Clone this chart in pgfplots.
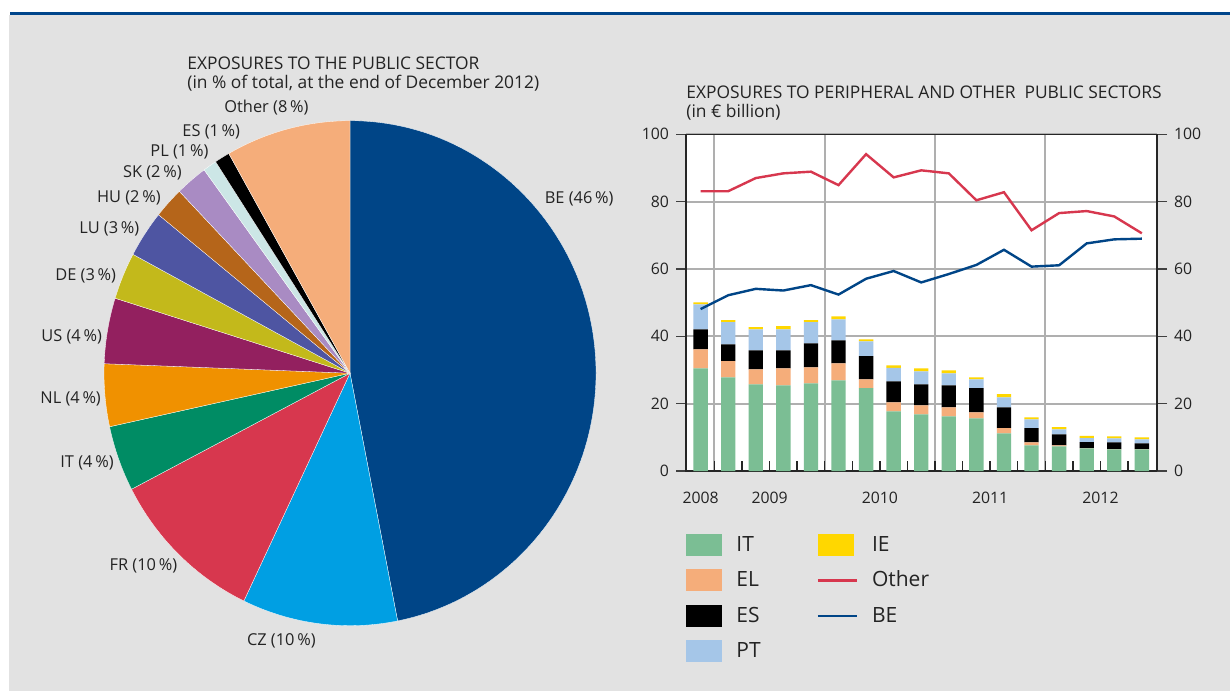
\documentclass[border=0pt]{standalone}
\usepackage{fontspec}
\setmainfont{Open Sans}
\usepackage{pgfplots}
\usepackage{pgfplotstable}
\pgfplotsset{compat=1.18}

\definecolor{bggray}{RGB}{226,226,226}
\definecolor{topblue}{RGB}{0,70,140}
\definecolor{txt}{RGB}{35,35,35}
\definecolor{gridgray}{RGB}{175,175,175}
% pie
\definecolor{pBE}{RGB}{0,69,135}
\definecolor{pCZ}{RGB}{0,159,227}
\definecolor{pFR}{RGB}{215,55,78}
\definecolor{pIT}{RGB}{0,140,100}
\definecolor{pNL}{RGB}{240,145,0}
\definecolor{pUS}{RGB}{147,32,95}
\definecolor{pDE}{RGB}{195,185,27}
\definecolor{pLU}{RGB}{78,85,162}
\definecolor{pHU}{RGB}{181,101,26}
\definecolor{pSK}{RGB}{169,139,195}
\definecolor{pPL}{RGB}{204,230,230}
\definecolor{pES}{RGB}{0,0,0}
\definecolor{pOther}{RGB}{245,173,122}
% bars and lines
\definecolor{bIT}{RGB}{123,190,148}
\definecolor{bEL}{RGB}{245,173,122}
\definecolor{bES}{RGB}{0,0,0}
\definecolor{bPT}{RGB}{165,198,232}
\definecolor{bIE}{RGB}{255,215,0}
\definecolor{lOther}{RGB}{215,55,78}
\definecolor{lBE}{RGB}{0,69,135}

% quarterly exposures, EUR billion
\pgfplotstableread{
x  IT   EL  ES  PT  IE  Other BE
0  30.5 5.6 6.0 7.4 0.6 83.1  48.1
1  27.8 4.8 5.0 6.6 0.6 83.1  52.2
2  25.7 4.5 5.6 6.3 0.6 87.0  54.1
3  25.4 5.1 5.3 6.3 0.9 88.4  53.6
4  26.0 4.8 7.1 6.3 0.6 88.9  55.2
5  26.9 5.1 6.8 6.2 0.9 84.9  52.4
6  24.6 2.6 6.9 4.4 0.6 94.1  57.1
7  17.7 2.7 6.2 4.0 0.8 87.2  59.4
8  16.8 2.7 6.2 3.9 0.9 89.3  56.0
9  16.2 2.7 6.5 3.6 0.9 88.4  58.5
10 15.6 1.8 7.2 2.6 0.6 80.4  61.2
11 11.2 1.5 6.2 3.0 0.9 82.8  65.7
12 7.6  0.9 4.2 2.6 0.6 71.5  60.7
13 7.3  0.3 3.3 1.5 0.6 76.6  61.1
14 6.7  0.1 1.8 1.2 0.6 77.2  67.6
15 6.4  0.1 2.0 1.2 0.6 75.6  68.8
16 6.4  0.1 1.7 1.2 0.6 70.6  69.0
}\expo

% pie slice from cumulative share #2 to #3 (in %), clockwise from the top
\newcommand{\slice}[3]{%
  \fill[#1, draw=white, line width=0.15pt] (axis cs:0,0) --
    (axis cs:{cos(90-3.6*#2)},{sin(90-3.6*#2)})
    arc[start angle={90-3.6*#2}, end angle={90-3.6*#3}, x radius=123pt, y radius=126.25pt] -- cycle;}

\pgfplotsset{
  barleg/.style={legend image code/.code={\fill[##1] (0pt,-5.5pt) rectangle (18pt,5.5pt);}},
  linleg/.style={legend image code/.code={\draw[##1] (0pt,0pt) -- (19.5pt,0pt);}},
}

\newcommand{\lab}{\fontsize{8.2}{10}\selectfont}
\newcommand{\ttl}{\fontsize{8.7}{10}\selectfont}

\begin{document}
\begin{tikzpicture}
\fill[white] (0,0) rectangle (615pt,345.5pt);
\fill[bggray] (4.5pt,0) rectangle (615pt,338pt);
\fill[topblue] (5pt,338pt) rectangle (615pt,339.4pt);

% pie
\begin{axis}[
  at={(175pt,158.9pt)}, anchor=center,
  x=123pt, y=126.25pt,
  xmin=-1, xmax=1, ymin=-1, ymax=1,
  hide axis, clip=false]
\slice{pBE}{0}{46.9}
\slice{pCZ}{46.9}{57.1}
\slice{pFR}{57.1}{67.4}
\slice{pIT}{67.4}{71.6}
\slice{pNL}{71.6}{75.6}
\slice{pUS}{75.6}{79.8}
\slice{pDE}{79.8}{82.8}
\slice{pLU}{82.8}{85.8}
\slice{pHU}{85.8}{87.8}
\slice{pSK}{87.8}{89.9}
\slice{pPL}{89.9}{90.8}
\slice{pES}{90.8}{91.8}
\slice{pOther}{91.8}{100}
\end{axis}

\begin{scope}[every node/.style={anchor=west, inner sep=0pt, text=txt, font=\lab}]
\node at (112pt,291.5pt) {Other (8\,\%)};
\node at (91pt,279.5pt) {ES (1\,\%)};
\node at (75pt,269.5pt) {PL (1\,\%)};
\node at (61.3pt,259pt) {SK (2\,\%)};
\node at (48.3pt,246.4pt) {HU (2\,\%)};
\node at (39.5pt,231pt) {LU (3\,\%)};
\node at (27.5pt,207.5pt) {DE (3\,\%)};
\node at (20.5pt,177.2pt) {US (4\,\%)};
\node at (20pt,145.9pt) {NL (4\,\%)};
\node at (30pt,114pt) {IT (4\,\%)};
\node at (54.6pt,62.5pt) {FR (10\,\%)};
\node at (123.3pt,25pt) {CZ (10\,\%)};
\node at (272.2pt,246pt) {BE (46\,\%)};
\end{scope}

\begin{scope}[every node/.style={anchor=west, inner sep=0pt, text=txt, font=\ttl}]
\node at (93.5pt,314pt) {EXPOSURES TO THE PUBLIC SECTOR};
\node at (93.5pt,304pt) {(in \% of total, at the end of December 2012)};
\node at (343pt,299.5pt) {EXPOSURES TO PERIPHERAL AND OTHER\ \ PUBLIC SECTORS};
\node at (343pt,289.5pt) {(in € billion)};
\end{scope}

% stacked bars
\begin{axis}[
  at={(343pt,110pt)}, anchor=south west,
  scale only axis, width=235.5pt, height=168.35pt,
  xmin=-0.53, xmax=16.55, ymin=0, ymax=100,
  ybar stacked, bar width=0.52,
  axis background/.style={fill=white},
  axis line style={black!85, line width=0.7pt},
  ytick={0,20,...,100}, ytick pos=left, ytick align=outside,
  major tick length=5pt, minor tick length=5pt,
  grid style={gridgray, line width=1pt},
  ymajorgrids, xmajorgrids,
  xtick={0.5,4.5,8.5,12.5}, xticklabels={},
  xtick pos=bottom, xtick align=inside,
  minor xtick={0.5,1.5,...,15.5},
  x tick style={black!85, line width=0.7pt},
  extra x ticks={0,2.5,6.5,10.5,14.5},
  extra x tick labels={2008,2009,2010,2011,2012},
  extra x tick style={grid=none, major tick length=0pt,
    xticklabel style={yshift=-7pt}},
  y tick style={black!75, line width=0.7pt},
  ticklabel style={font=\fontsize{7.9}{9}\selectfont, text=txt},
  /pgf/number format/assume math mode=true,
  legend columns=4, transpose legend,
  legend cell align=left,
  legend style={at={(0,-0.18)}, anchor=north west, draw=none, fill=none,
    inner sep=0pt, font=\fontsize{10.5}{12}\selectfont, text=txt,
    row sep=4.5pt,
    /tikz/every odd column/.append style={column sep=5pt},
    /tikz/every even column/.append style={column sep=26pt}},
]
\addplot[fill=bIT, draw=none, barleg] table[x=x, y=IT]{\expo};
\addplot[fill=bEL, draw=none, barleg] table[x=x, y=EL]{\expo};
\addplot[fill=bES, draw=none, barleg] table[x=x, y=ES]{\expo};
\addplot[fill=bPT, draw=none, barleg] table[x=x, y=PT]{\expo};
\addplot[fill=bIE, draw=none, barleg] table[x=x, y=IE]{\expo};
\addlegendimage{lOther, line width=1.2pt, linleg}
\addlegendimage{lBE, line width=1.2pt, linleg}
\legend{IT,EL,ES,PT,IE,Other,BE}
\end{axis}

% lines and right axis
\begin{axis}[
  at={(343pt,110pt)}, anchor=south west,
  scale only axis, width=235.5pt, height=168.35pt,
  xmin=-0.53, xmax=16.55, ymin=0, ymax=100,
  axis x line=none, axis y line*=right,
  axis line style={black!85, line width=0.7pt},
  ytick={0,20,...,100}, ytick align=outside,
  major tick length=5pt,
  y tick style={black!75, line width=0.7pt},
  ticklabel style={font=\fontsize{7.9}{9}\selectfont, text=txt},
  /pgf/number format/assume math mode=true,
]
\addplot[lOther, line width=1.2pt] table[x=x, y=Other]{\expo};
\addplot[lBE, line width=1.2pt] table[x=x, y=BE]{\expo};
\end{axis}

\pgfresetboundingbox
\useasboundingbox (0,0) rectangle (615pt,345.5pt);
\end{tikzpicture}
\end{document}
